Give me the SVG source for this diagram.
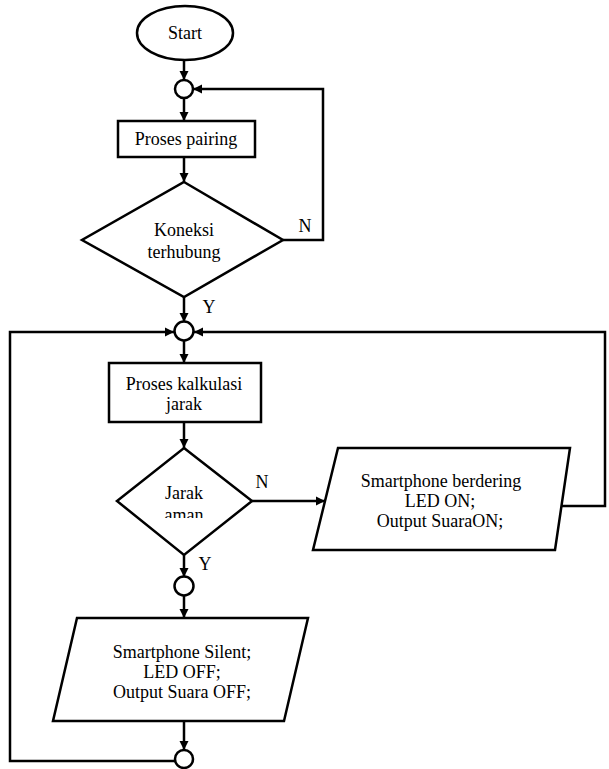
<svg xmlns="http://www.w3.org/2000/svg" width="609" height="769" viewBox="0 0 609 769">
<style>
.s{fill:#fff;stroke:#000;stroke-width:2.5}
.c{fill:none;stroke:#000;stroke-width:2.5}
.t{font-size:18px;fill:#000;text-anchor:middle}
</style>
<defs>
<marker id="ah" markerUnits="userSpaceOnUse" markerWidth="10" markerHeight="10" refX="9" refY="5" orient="auto">
<path d="M0,0.5 L9,5 L0,9.5 z" fill="#000"/>
</marker>
<clipPath id="clipAman"><rect x="100" y="505" width="170" height="13"/></clipPath>
</defs>
<rect width="609" height="769" fill="#fff"/>
<g font-family="'Liberation Serif', 'Times New Roman', 'DejaVu Serif', serif">
<g id="connectors">
<path class="c" d="M184,60 V80" marker-end="url(#ah)"/>
<path class="c" d="M184,98 V121" marker-end="url(#ah)"/>
<path class="c" d="M184,157 V182" marker-end="url(#ah)"/>
<path class="c" d="M283,240 H323 V89 H193" marker-end="url(#ah)"/>
<path class="c" d="M184,297 V322" marker-end="url(#ah)"/>
<path class="c" d="M175,761 H10 V332 H174" marker-end="url(#ah)"/>
<path class="c" d="M561,506 H605 V332 H194" marker-end="url(#ah)"/>
<path class="c" d="M184,341 V363" marker-end="url(#ah)"/>
<path class="c" d="M184,422 V448" marker-end="url(#ah)"/>
<path class="c" d="M252,501 H325" marker-end="url(#ah)"/>
<path class="c" d="M184,555 V577" marker-end="url(#ah)"/>
<path class="c" d="M184,595 V618" marker-end="url(#ah)"/>
<path class="c" d="M184,721 V750" marker-end="url(#ah)"/>
<text class="t" x="305" y="232">N</text>
<text class="t" x="209" y="313">Y</text>
<text class="t" x="262" y="488">N</text>
<text class="t" x="205" y="570">Y</text>
</g>
<g id="start">
<ellipse class="s" cx="185" cy="33" rx="48" ry="27"/>
<text class="t" x="185" y="39">Start</text>
</g>
<g id="junction1"><circle class="s" cx="184" cy="89" r="9"/></g>
<g id="proses-pairing">
<rect class="s" x="118" y="121" width="137" height="36"/>
<text class="t" x="186" y="145">Proses pairing</text>
</g>
<g id="koneksi">
<polygon class="s" points="184,182 283,240 184,297 82,240"/>
<text class="t" x="184" y="236">Koneksi</text>
<text class="t" x="184" y="258">terhubung</text>
</g>
<g id="junction2"><circle class="s" cx="184" cy="331" r="9.5"/></g>
<g id="kalkulasi">
<rect class="s" x="109" y="363" width="152" height="59"/>
<text class="t" x="184" y="390">Proses kalkulasi</text>
<text class="t" x="184" y="410">jarak</text>
</g>
<g id="jarak-aman">
<polygon class="s" points="184,448 252,501 184,555 117,501"/>
<text class="t" x="184" y="499">Jarak</text>
<text class="t" x="184" y="521" clip-path="url(#clipAman)">aman</text>
</g>
<g id="berdering">
<polygon class="s" points="338,448 570,448 555,550 313,550"/>
<text class="t" x="441" y="487">Smartphone berdering</text>
<text class="t" x="440" y="507">LED ON;</text>
<text class="t" x="440" y="527">Output SuaraON;</text>
</g>
<g id="junction3"><circle class="s" cx="184" cy="586" r="9.5"/></g>
<g id="silent">
<polygon class="s" points="77,618 308,618 284,721 53,721"/>
<text class="t" x="182" y="658">Smartphone Silent;</text>
<text class="t" x="182" y="678">LED OFF;</text>
<text class="t" x="182" y="698">Output Suara OFF;</text>
</g>
<g id="junction4"><circle class="s" cx="184" cy="759" r="9"/></g>
</g>
</svg>
